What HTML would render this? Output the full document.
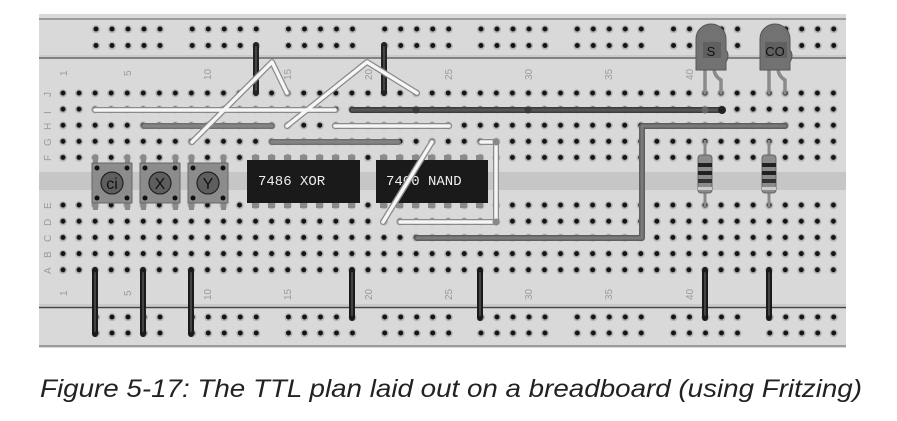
<!DOCTYPE html>
<html><head><meta charset="utf-8"><style>
html,body{margin:0;padding:0;background:#fff;width:897px;height:421px;overflow:hidden}
svg{display:block}
</style></head><body>
<svg width="897" height="421" viewBox="0 0 897 421" xmlns="http://www.w3.org/2000/svg">
<defs>
<pattern id="h" x="55" y="85" width="16.05" height="16.1" patternUnits="userSpaceOnUse">
<circle cx="8" cy="8.3" r="4" fill="#b4b4b4"/><circle cx="8" cy="8" r="2.5" fill="#151515"/></pattern>
<pattern id="h2" x="55" y="197" width="16.05" height="16.2" patternUnits="userSpaceOnUse">
<circle cx="8" cy="8.3" r="4" fill="#b4b4b4"/><circle cx="8" cy="8" r="2.5" fill="#151515"/></pattern>
<pattern id="r" x="88" y="21" width="96.25" height="16.5" patternUnits="userSpaceOnUse">
<g fill="#b4b4b4"><circle cx="8" cy="8.3" r="4"/><circle cx="24" cy="8.3" r="4"/><circle cx="40" cy="8.3" r="4"/><circle cx="56" cy="8.3" r="4"/><circle cx="72" cy="8.3" r="4"/></g>
<g fill="#151515"><circle cx="8" cy="8" r="2.5"/><circle cx="24" cy="8" r="2.5"/><circle cx="40" cy="8" r="2.5"/><circle cx="56" cy="8" r="2.5"/><circle cx="72" cy="8" r="2.5"/></g></pattern>
<pattern id="r2" x="88" y="309" width="96.25" height="16" patternUnits="userSpaceOnUse">
<g fill="#b4b4b4"><circle cx="8" cy="8.3" r="4"/><circle cx="24" cy="8.3" r="4"/><circle cx="40" cy="8.3" r="4"/><circle cx="56" cy="8.3" r="4"/><circle cx="72" cy="8.3" r="4"/></g>
<g fill="#151515"><circle cx="8" cy="8" r="2.5"/><circle cx="24" cy="8" r="2.5"/><circle cx="40" cy="8" r="2.5"/><circle cx="56" cy="8" r="2.5"/><circle cx="72" cy="8" r="2.5"/></g></pattern>
</defs>
<rect x="39" y="14" width="807" height="334" fill="#d9d9d9"/>
<line x1="39" y1="19" x2="846" y2="19" stroke="#888" stroke-width="1.5"/>
<line x1="39" y1="56" x2="846" y2="56" stroke="#bbb" stroke-width="1"/>
<line x1="39" y1="58" x2="846" y2="58" stroke="#666" stroke-width="1.5"/>
<line x1="39" y1="305" x2="846" y2="305" stroke="#bbb" stroke-width="1"/>
<line x1="39" y1="307.5" x2="846" y2="307.5" stroke="#444" stroke-width="1.5"/>
<line x1="39" y1="346" x2="846" y2="346" stroke="#888" stroke-width="1.5"/>
<rect x="39" y="172" width="807" height="18" fill="#c6c6c6"/>
<rect x="55" y="85" width="787" height="81" fill="url(#h)"/>
<rect x="55" y="197" width="787" height="81" fill="url(#h2)"/>
<rect x="88" y="21" width="760" height="33" fill="url(#r)"/>
<rect x="88" y="309" width="760" height="33" fill="url(#r2)"/>
<g font-family="Liberation Sans, sans-serif" font-size="10" fill="#9a9a9a">
<g transform="translate(67,76) rotate(-90)"><text>1</text></g>
<g transform="translate(131,76) rotate(-90)"><text>5</text></g>
<g transform="translate(211,80) rotate(-90)"><text>10</text></g>
<g transform="translate(291,80) rotate(-90)"><text>15</text></g>
<g transform="translate(372,80) rotate(-90)"><text>20</text></g>
<g transform="translate(452,80) rotate(-90)"><text>25</text></g>
<g transform="translate(532,80) rotate(-90)"><text>30</text></g>
<g transform="translate(612,80) rotate(-90)"><text>35</text></g>
<g transform="translate(693,80) rotate(-90)"><text>40</text></g>
<g transform="translate(67,296) rotate(-90)"><text>1</text></g>
<g transform="translate(131,296) rotate(-90)"><text>5</text></g>
<g transform="translate(211,300) rotate(-90)"><text>10</text></g>
<g transform="translate(291,300) rotate(-90)"><text>15</text></g>
<g transform="translate(372,300) rotate(-90)"><text>20</text></g>
<g transform="translate(452,300) rotate(-90)"><text>25</text></g>
<g transform="translate(532,300) rotate(-90)"><text>30</text></g>
<g transform="translate(612,300) rotate(-90)"><text>35</text></g>
<g transform="translate(693,300) rotate(-90)"><text>40</text></g>
<g transform="translate(51,97) rotate(-90)"><text>J</text></g>
<g transform="translate(51,114) rotate(-90)"><text>I</text></g>
<g transform="translate(51,130) rotate(-90)"><text>H</text></g>
<g transform="translate(51,146) rotate(-90)"><text>G</text></g>
<g transform="translate(51,161) rotate(-90)"><text>F</text></g>
<g transform="translate(51,209) rotate(-90)"><text>E</text></g>
<g transform="translate(51,226) rotate(-90)"><text>D</text></g>
<g transform="translate(51,242) rotate(-90)"><text>C</text></g>
<g transform="translate(51,258) rotate(-90)"><text>B</text></g>
<g transform="translate(51,274) rotate(-90)"><text>A</text></g>
</g>
<g fill="#8a8a8a">
<rect x="252" y="155" width="7" height="8"/><rect x="268" y="155" width="7" height="8"/><rect x="284" y="155" width="7" height="8"/><rect x="300" y="155" width="7" height="8"/><rect x="316" y="155" width="7" height="8"/><rect x="332" y="155" width="7" height="8"/><rect x="348" y="155" width="7" height="8"/>
<rect x="252" y="200" width="7" height="8"/><rect x="268" y="200" width="7" height="8"/><rect x="284" y="200" width="7" height="8"/><rect x="300" y="200" width="7" height="8"/><rect x="316" y="200" width="7" height="8"/><rect x="332" y="200" width="7" height="8"/><rect x="348" y="200" width="7" height="8"/>
<rect x="380" y="155" width="7" height="8"/><rect x="396" y="155" width="7" height="8"/><rect x="412" y="155" width="7" height="8"/><rect x="428" y="155" width="7" height="8"/><rect x="444" y="155" width="7" height="8"/><rect x="460" y="155" width="7" height="8"/><rect x="476" y="155" width="7" height="8"/>
<rect x="380" y="200" width="7" height="8"/><rect x="396" y="200" width="7" height="8"/><rect x="412" y="200" width="7" height="8"/><rect x="428" y="200" width="7" height="8"/><rect x="444" y="200" width="7" height="8"/><rect x="460" y="200" width="7" height="8"/><rect x="476" y="200" width="7" height="8"/>
</g>
<rect x="247" y="160" width="113" height="43" fill="#1a1a1a"/>
<rect x="376" y="160" width="112" height="43" fill="#1a1a1a"/>
<g font-family="Liberation Mono, monospace" font-size="14" fill="#eee">
<text x="258" y="185">7486 XOR</text>
<text x="386" y="185">7400 NAND</text>
</g>
<g>
<g fill="#8a8a8a"><rect x="93" y="155" width="5" height="10"/><rect x="125" y="155" width="5" height="10"/><rect x="93" y="200" width="5" height="10"/><rect x="125" y="200" width="5" height="10"/>
<rect x="141" y="155" width="5" height="10"/><rect x="173" y="155" width="5" height="10"/><rect x="141" y="200" width="5" height="10"/><rect x="173" y="200" width="5" height="10"/>
<rect x="189" y="155" width="5" height="10"/><rect x="221" y="155" width="5" height="10"/><rect x="189" y="200" width="5" height="10"/><rect x="221" y="200" width="5" height="10"/></g>
<rect x="92" y="163" width="40" height="40" fill="#8c8c8c" stroke="#666"/>
<rect x="140" y="163" width="40" height="40" fill="#8c8c8c" stroke="#666"/>
<rect x="188" y="163" width="40" height="40" fill="#8c8c8c" stroke="#666"/>
<g fill="#111">
<circle cx="97" cy="168" r="2.5"/><circle cx="127" cy="168" r="2.5"/><circle cx="97" cy="198" r="2.5"/><circle cx="127" cy="198" r="2.5"/>
<circle cx="145" cy="168" r="2.5"/><circle cx="175" cy="168" r="2.5"/><circle cx="145" cy="198" r="2.5"/><circle cx="175" cy="198" r="2.5"/>
<circle cx="193" cy="168" r="2.5"/><circle cx="223" cy="168" r="2.5"/><circle cx="193" cy="198" r="2.5"/><circle cx="223" cy="198" r="2.5"/></g>
<g fill="#5e5e5e" stroke="#222" stroke-width="1.2">
<circle cx="112" cy="183" r="11"/><circle cx="160" cy="183" r="11"/><circle cx="208" cy="183" r="11"/></g>
<g font-family="Liberation Sans, sans-serif" font-size="16" fill="#111" text-anchor="middle">
<text x="112" y="189">ci</text><text x="160" y="189">X</text><text x="208" y="189">Y</text></g>
</g>
<g stroke="#8a8a8a" stroke-width="3"><line x1="705" y1="140" x2="705" y2="207"/><line x1="769" y1="140" x2="769" y2="207"/></g>
<g><rect x="698" y="155" width="14" height="38" rx="3" fill="#8c8c8c" stroke="#666"/>
<rect x="698" y="163" width="14" height="4" fill="#222"/><rect x="698" y="171" width="14" height="4" fill="#222"/><rect x="698" y="179" width="14" height="4" fill="#333"/><rect x="698" y="187" width="14" height="3" fill="#ccc"/>
<rect x="762" y="155" width="14" height="38" rx="3" fill="#8c8c8c" stroke="#666"/>
<rect x="762" y="163" width="14" height="4" fill="#222"/><rect x="762" y="171" width="14" height="4" fill="#222"/><rect x="762" y="179" width="14" height="4" fill="#333"/><rect x="762" y="187" width="14" height="3" fill="#ccc"/></g>
<g fill="none" stroke-linecap="round" stroke-linejoin="round">
<g stroke="#222" stroke-width="6"><line x1="256" y1="45" x2="256" y2="93"/><line x1="384" y1="45" x2="384" y2="93"/></g>
<g stroke="#444" stroke-width="2"><line x1="256" y1="47" x2="256" y2="90"/><line x1="384" y1="47" x2="384" y2="90"/></g>
<g stroke="#6f6f6f" stroke-width="6"><line x1="144" y1="126" x2="272" y2="126"/><line x1="272" y1="142" x2="398" y2="142"/></g>
<g stroke="#848484" stroke-width="3"><line x1="144" y1="126" x2="272" y2="126"/><line x1="272" y1="142" x2="398" y2="142"/></g>
<polyline points="352,110 722,110" stroke="#3c3c3c" stroke-width="6"/>
<polyline points="352,110 722,110" stroke="#555" stroke-width="3"/>
<circle cx="416" cy="110" r="3.5" fill="#3a3a3a"/><circle cx="528" cy="110" r="3.5" fill="#3a3a3a"/><circle cx="705" cy="110" r="3.5" fill="#666"/><circle cx="722" cy="110" r="4" fill="#222"/>
<polyline points="417,238 642,238 642,126 785,126" stroke="#5e5e5e" stroke-width="6"/>
<polyline points="417,238 642,238 642,126 785,126" stroke="#7a7a7a" stroke-width="3"/>
<g stroke="#8a8a8a" stroke-width="6">
<line x1="95" y1="110" x2="335" y2="110"/><line x1="335" y1="126" x2="449" y2="126"/>
<polyline points="481,142 496,142 496,222 400,222"/>
<polyline points="192,142 272,62 287,93"/><polyline points="287,126 367,62 417,93"/>
<line x1="432" y1="142" x2="383" y2="222"/></g>
<g stroke="#f6f6f6" stroke-width="3.5">
<line x1="95" y1="110" x2="335" y2="110"/><line x1="335" y1="126" x2="449" y2="126"/>
<polyline points="481,142 496,142 496,222 400,222"/>
<polyline points="192,142 272,62 287,93"/><polyline points="287,126 367,62 417,93"/>
<line x1="432" y1="142" x2="383" y2="222"/></g>
<circle cx="496" cy="142" r="3.5" fill="#888"/><circle cx="496" cy="222" r="3.5" fill="#888"/>
<g stroke="#1a1a1a" stroke-width="6">
<line x1="95" y1="270" x2="95" y2="334"/><line x1="143" y1="270" x2="143" y2="334"/><line x1="191" y1="270" x2="191" y2="334"/>
<line x1="352" y1="270" x2="352" y2="318"/><line x1="480" y1="270" x2="480" y2="318"/><line x1="705" y1="270" x2="705" y2="318"/><line x1="769" y1="270" x2="769" y2="318"/></g>
<g stroke="#444" stroke-width="2">
<line x1="95" y1="273" x2="95" y2="331"/><line x1="143" y1="273" x2="143" y2="331"/><line x1="191" y1="273" x2="191" y2="331"/>
<line x1="352" y1="273" x2="352" y2="315"/><line x1="480" y1="273" x2="480" y2="315"/><line x1="705" y1="273" x2="705" y2="315"/><line x1="769" y1="273" x2="769" y2="315"/></g>
</g>
<g fill="none" stroke="#8a8a8a" stroke-width="3.5" stroke-linecap="round">
<path d="M705 68 L705 93"/><path d="M714 68 Q714 76 721 80 L721 93"/>
<path d="M769 68 L769 93"/><path d="M778 68 Q778 76 785 80 L785 93"/></g>
<g>
<path d="M696 70 L696 39 A15 15 0 0 1 726 39 L726 50 Q730 55 726 62 L726 70 Z" fill="#727272" stroke="#555"/>
<path d="M760 70 L760 39 A15 15 0 0 1 790 39 L790 50 Q794 55 790 62 L790 70 Z" fill="#727272" stroke="#555"/>
<rect x="703" y="42" width="18" height="16" fill="#555" opacity="0.6"/>
<rect x="765" y="42" width="22" height="16" fill="#555" opacity="0.6"/>
</g>
<g font-family="Liberation Sans, sans-serif" font-size="13" fill="#111" text-anchor="middle">
<text x="711" y="56">S</text><text x="775" y="56">CO</text></g>
<text x="40" y="397" font-family="Liberation Sans, sans-serif" font-style="italic" font-size="25" fill="#222" textLength="822" lengthAdjust="spacingAndGlyphs">Figure 5-17: The TTL plan laid out on a breadboard (using Fritzing)</text>
</svg>
</body></html>
